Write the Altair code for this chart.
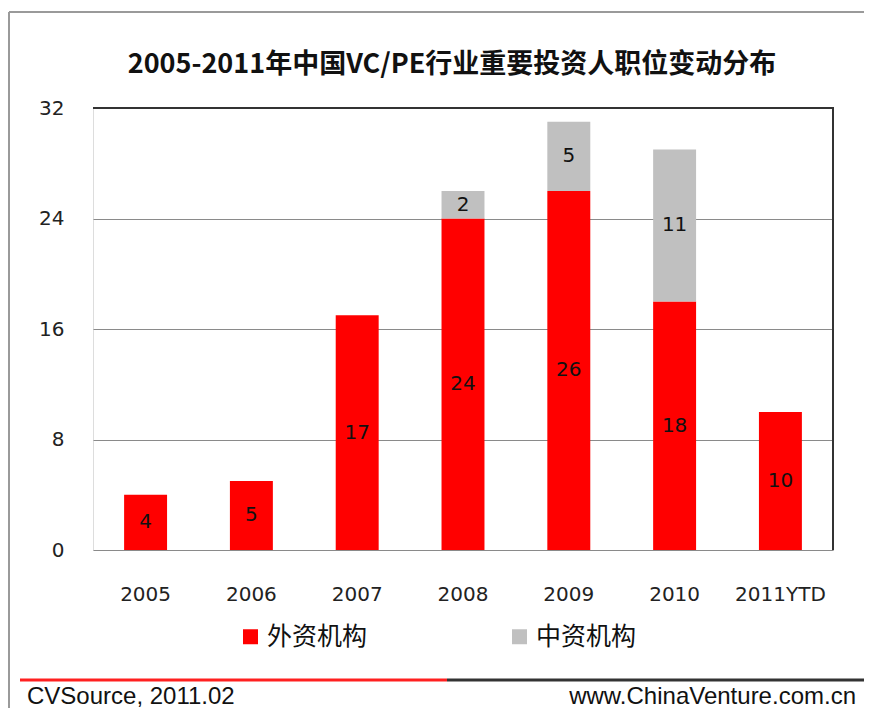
import altair as alt
import pandas as pd

years = ["2005", "2006", "2007", "2008", "2009", "2010", "2011YTD"]
foreign = [4, 5, 17, 24, 26, 18, 10]
domestic = [0, 0, 0, 2, 5, 11, 0]
series = ["外资机构", "中资机构"]
colors = ["#FF0000", "#C0C0C0"]
y_ticks = [0, 8, 16, 24, 32]
title_text = "2005-2011年中国VC/PE行业重要投资人职位变动分布"
source_text = "CVSource, 2011.02"
site_text = "www.ChinaVenture.com.cn"

rows = []
for y, f, d in zip(years, foreign, domestic):
    rows.append({"year": y, "series": series[0], "value": f, "ord": 0})
    rows.append({"year": y, "series": series[1], "value": d, "ord": 1})
df = pd.DataFrame(rows)

W, H = 740, 442
NUM_FONT = "DejaVu Sans"
FOOT_FONT = "Liberation Sans"

base = alt.Chart(df).transform_stack(
    stack="value", groupby=["year"], as_=["v0", "v1"],
    sort=[alt.SortField("ord", order="ascending")]
).transform_calculate(mid="(datum.v0 + datum.v1) / 2")

x_enc = alt.X("year:N", sort=years, title=None,
              scale=alt.Scale(paddingInner=0.594, paddingOuter=0.294),
              axis=alt.Axis(labelAngle=0, ticks=False, domain=False,
                            labelFont=NUM_FONT, labelFontSize=20, labelColor="#222",
                            labelPadding=34, grid=False))

bars = base.mark_bar().encode(
    x=x_enc,
    y=alt.Y("v0:Q", title=None,
            scale=alt.Scale(domain=[0, 32], nice=False),
            axis=alt.Axis(values=y_ticks, ticks=False, domain=False,
                          labelFont=NUM_FONT, labelFontSize=20, labelColor="#222",
                          labelPadding=29, grid=True, gridColor="#8a8a8a",
                          gridWidth=1)),
    y2="v1:Q",
    color=alt.Color("series:N", scale=alt.Scale(domain=series, range=colors),
                    legend=alt.Legend(orient="none", legendX=145, legendY=516,
                                      direction="horizontal", title=None,
                                      symbolType="square", symbolSize=225,
                                      symbolStrokeWidth=0,
                                      labelFont="Noto Sans CJK SC", labelFontSize=25,
                                      labelColor="#111", labelOffset=4,
                                      columnPadding=139)),
)

labels = base.transform_filter("datum.value > 0").mark_text(
    font=NUM_FONT, fontSize=20, color="#111", baseline="middle"
).encode(
    x=alt.X("year:N", sort=years),
    y=alt.Y("mid:Q"),
    text="value:Q",
)

one = pd.DataFrame({"a": [0]})
deco = alt.Chart(one)
top_line = deco.mark_rule(color="#333", strokeWidth=2).encode(
    x=alt.value(0), x2=alt.value(W + 1), y=alt.value(0))
right_line = deco.mark_rule(color="#333", strokeWidth=2).encode(
    x=alt.value(W), y=alt.value(0), y2=alt.value(H))
frame_top = deco.mark_rule(color="#9a9a9a", strokeWidth=2).encode(
    x=alt.value(-84), x2=alt.value(790), y=alt.value(-96))
frame_left = deco.mark_rule(color="#9a9a9a", strokeWidth=2).encode(
    x=alt.value(-84), y=alt.value(-96), y2=alt.value(620))
foot_red = deco.mark_rule(color="#FF2020", strokeWidth=3).encode(
    x=alt.value(-73), x2=alt.value(354), y=alt.value(572))
foot_dark = deco.mark_rule(color="#333", strokeWidth=3).encode(
    x=alt.value(354), x2=alt.value(790), y=alt.value(572))
src = deco.mark_text(text=source_text, font=FOOT_FONT, fontSize=24,
                     align="left", baseline="middle", color="#111").encode(
    x=alt.value(-66), y=alt.value(589))
site = deco.mark_text(text=site_text, font=FOOT_FONT, fontSize=24,
                      align="right", baseline="middle", color="#111").encode(
    x=alt.value(763), y=alt.value(589))
title = deco.mark_text(text=title_text, font="Noto Sans CJK SC", fontSize=27,
                       fontWeight="bold", align="center", baseline="middle",
                       color="#111").encode(
    x=alt.value(359), y=alt.value(-43))

chart = alt.layer(
    bars, labels, top_line, right_line, frame_top, frame_left,
    foot_red, foot_dark, src, site, title
).properties(
    width=W, height=H,
    autosize=alt.AutoSizeParams(type="none"),
    padding={"left": 85, "top": 100, "right": 31, "bottom": 158},
).configure_view(
    stroke="#8a8a8a", strokeWidth=1
).configure(background="white")

chart.save("out.html", embed_options={"renderer": "svg", "actions": False})
